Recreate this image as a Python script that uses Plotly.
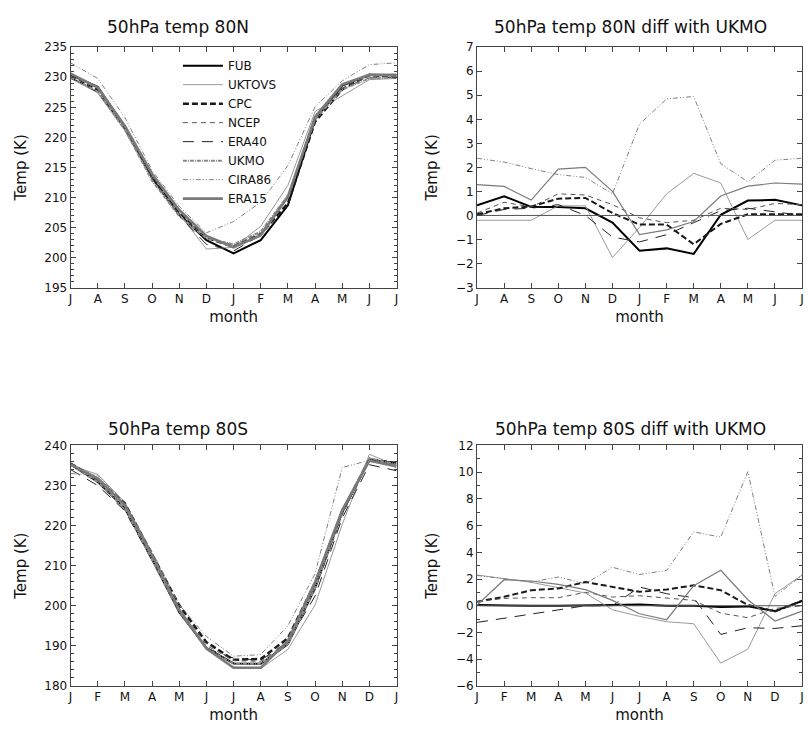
import plotly.graph_objects as go

# ---------------- data ----------------
months_N = ["J", "A", "S", "O", "N", "D", "J", "F", "M", "A", "M", "J", "J"]
months_S = ["J", "F", "M", "A", "M", "J", "J", "A", "S", "O", "N", "D", "J"]
series = ["FUB", "UKTOVS", "CPC", "NCEP", "ERA40", "UKMO", "CIRA86", "ERA15"]

# 50hPa temperature at 80N (K), July..July
temp80N_FUB    = [230.4, 228.4, 221.7, 213.2, 207.2, 202.9, 200.7, 202.9, 208.7, 223.0, 228.6, 230.4, 230.4]
temp80N_UKTOVS = [229.8, 227.4, 221.1, 213.2, 207.3, 201.4, 201.7, 205.2, 212.0, 224.3, 226.9, 229.6, 229.8]
temp80N_CPC    = [230.0, 227.9, 221.6, 213.5, 207.6, 203.3, 201.8, 203.9, 209.0, 222.6, 228.0, 230.4, 230.0]
temp80N_NCEP   = [230.1, 228.2, 221.7, 213.7, 207.6, 203.5, 202.0, 204.0, 210.0, 223.2, 228.2, 230.2, 230.4]
temp80N_ERA40  = [230.0, 227.5, 221.5, 213.2, 206.9, 202.2, 201.1, 203.7, 210.1, 223.2, 228.2, 229.9, 230.0]
temp80N_UKMO   = [230.0, 227.6, 221.3, 212.8, 206.9, 203.2, 202.2, 204.3, 210.3, 223.0, 228.0, 229.8, 230.0]
temp80N_CIRA86 = [232.4, 229.8, 223.3, 214.5, 208.5, 204.1, 206.0, 209.2, 215.3, 225.1, 229.4, 232.1, 232.4]
temp80N_ERA15  = [230.6, 228.3, 221.9, 213.9, 207.9, 203.6, 201.7, 203.7, 210.1, 223.4, 228.8, 230.4, 230.3]

# differences with UKMO at 80N (K)
diff80N_FUB    = [0.42, 0.80, 0.35, 0.35, 0.30, -0.30, -1.47, -1.37, -1.60, 0.03, 0.62, 0.65, 0.42]
diff80N_UKTOVS = [-0.20, -0.20, -0.20, 0.40, 0.40, -1.75, -0.50, 0.90, 1.75, 1.35, -1.00, -0.20, -0.20]
diff80N_CPC    = [0.05, 0.30, 0.37, 0.70, 0.73, 0.10, -0.38, -0.38, -1.20, -0.35, 0.05, 0.05, 0.05]
diff80N_NCEP   = [0.10, 0.55, 0.35, 0.90, 0.85, 0.45, -0.10, -0.30, -0.20, 0.30, 0.25, 0.50, 0.45]
diff80N_ERA40  = [0.00, 0.25, 0.30, 0.45, 0.00, -0.90, -1.10, -0.80, -0.30, 0.20, 0.30, 0.15, 0.00]
diff80N_UKMO   = [0.0] * 13
diff80N_CIRA86 = [2.38, 2.22, 1.95, 1.70, 1.58, 0.90, 3.80, 4.85, 4.95, 2.15, 1.40, 2.30, 2.38]
diff80N_ERA15  = [1.28, 1.21, 0.64, 1.93, 2.00, 1.00, -0.80, -0.60, -0.25, 0.81, 1.22, 1.35, 1.30]

# 50hPa temperature at 80S (K), Jan..Jan
temp80S_FUB    = [235.3, 230.9, 224.3, 211.6, 198.4, 189.5, 185.6, 185.5, 190.4, 204.4, 223.4, 236.5, 235.6]
temp80S_UKTOVS = [235.0, 232.8, 225.8, 212.9, 199.3, 189.1, 184.7, 184.3, 189.1, 200.2, 220.3, 237.8, 235.0]
temp80S_CPC    = [235.5, 231.6, 225.5, 212.9, 200.1, 190.9, 186.5, 186.7, 191.9, 205.7, 223.5, 236.5, 235.6]
temp80S_NCEP   = [235.4, 231.4, 224.9, 212.2, 199.4, 190.1, 186.3, 186.1, 190.8, 203.9, 222.6, 236.7, 235.2]
temp80S_ERA40  = [234.0, 230.0, 223.7, 211.3, 198.4, 189.4, 186.9, 186.4, 191.0, 202.4, 221.9, 235.2, 233.7]
temp80S_UKMO   = [235.2, 230.9, 224.3, 211.6, 198.4, 189.4, 185.5, 185.5, 190.4, 204.5, 223.5, 236.9, 235.2]
temp80S_CIRA86 = [233.0, 232.6, 225.5, 213.5, 200.2, 192.3, 187.4, 187.8, 195.0, 208.0, 234.5, 236.3, 234.4]
temp80S_ERA15  = [235.3, 231.8, 225.1, 212.6, 199.0, 189.3, 184.5, 184.5, 191.2, 205.9, 223.9, 236.2, 234.8]

# differences with UKMO at 80S (K)
diff80S_FUB    = [0.05, 0.00, 0.00, 0.00, 0.00, 0.05, 0.10, 0.00, 0.00, -0.10, -0.05, -0.40, 0.35]
diff80S_UKTOVS = [2.30, 2.00, 1.75, 1.35, 0.95, -0.30, -0.80, -1.20, -1.35, -4.30, -3.25, 0.90, 2.30]
diff80S_CPC    = [0.30, 0.67, 1.16, 1.29, 1.78, 1.41, 1.04, 1.21, 1.53, 1.16, 0.06, -0.43, 0.38]
diff80S_NCEP   = [0.30, 0.55, 0.60, 0.60, 1.00, 0.65, 0.75, 0.60, 0.40, -0.55, -0.90, -0.20, 0.00]
diff80S_ERA40  = [-1.25, -0.95, -0.60, -0.30, 0.00, 0.00, 1.40, 0.90, 0.60, -2.15, -1.65, -1.70, -1.50]
diff80S_UKMO   = [0.0] * 13
diff80S_CIRA86 = [2.27, 2.03, 1.78, 2.15, 1.65, 2.88, 2.34, 2.64, 5.53, 5.14, 10.04, 0.70, 2.27]
diff80S_ERA15  = [0.05, 1.95, 1.85, 1.60, 1.20, 0.40, -0.60, -1.05, 1.50, 2.65, 0.45, -1.15, -0.40]

# ---------------- styles ----------------
styles = {
    "FUB":    dict(color="#000000", width=2.0, dash="solid"),
    "UKTOVS": dict(color="#9a9a9a", width=1.0, dash="solid"),
    "CPC":    dict(color="#1a1a1a", width=2.5, dash="6px,3px"),
    "NCEP":   dict(color="#555555", width=1.0, dash="5px,4px"),
    "ERA40":  dict(color="#222222", width=1.0, dash="11px,8px"),
    "UKMO":   dict(color="#8a8a8a", width=2.0, dash="4px,1px,1px,1px"),
    "CIRA86": dict(color="#808080", width=1.0, dash="5px,2px,1px,2px,1px,2px"),
    "ERA15":  dict(color="#7a7a7a", width=2.6, dash="solid"),
}
diff_style = {
    "ERA15": dict(width=1.2),
    "UKMO": dict(width=1.0, color="#555555", dash="solid"),
    "CPC": dict(width=2.0),
    "FUB": dict(width=2.0),
}

panels = [
    ("x", "y", months_N, [temp80N_FUB, temp80N_UKTOVS, temp80N_CPC, temp80N_NCEP, temp80N_ERA40, temp80N_UKMO, temp80N_CIRA86, temp80N_ERA15], True, False),
    ("x2", "y2", months_N, [diff80N_FUB, diff80N_UKTOVS, diff80N_CPC, diff80N_NCEP, diff80N_ERA40, diff80N_UKMO, diff80N_CIRA86, diff80N_ERA15], False, True),
    ("x3", "y3", months_S, [temp80S_FUB, temp80S_UKTOVS, temp80S_CPC, temp80S_NCEP, temp80S_ERA40, temp80S_UKMO, temp80S_CIRA86, temp80S_ERA15], False, False),
    ("x4", "y4", months_S, [diff80S_FUB, diff80S_UKTOVS, diff80S_CPC, diff80S_NCEP, diff80S_ERA40, diff80S_UKMO, diff80S_CIRA86, diff80S_ERA15], False, True),
]

fig = go.Figure()
for xa, ya, months, data, show, is_diff in panels:
    xs = list(range(len(months)))
    for name, vals in zip(series, data):
        line = dict(styles[name])
        if is_diff and name in diff_style:
            line.update(diff_style[name])
        fig.add_trace(go.Scatter(
            x=xs, y=vals, mode="lines", name=name, xaxis=xa, yaxis=ya,
            line=line, showlegend=show, legendgroup=name,
        ))

FONT = "DejaVu Sans"
W, H = 808, 736
def px_x(a, b):
    return [a / W, b / W]
def px_y(top, bottom):
    return [1 - bottom / H, 1 - top / H]

axis_common = dict(
    showline=True, mirror="ticks", linecolor="#444444", linewidth=1,
    ticks="inside", ticklen=5, tickcolor="#444444",
    showgrid=False, zeroline=False,
    tickfont=dict(family=FONT, size=12, color="#111111"),
)

def xaxis(domain, months, anchor):
    d = dict(axis_common)
    d.update(domain=domain, anchor=anchor, range=[0, len(months) - 1],
             tickmode="array", tickvals=list(range(len(months))), ticktext=months,
             title=dict(text="month", font=dict(family=FONT, size=15, color="#111111"), standoff=6))
    return d

def yaxis(domain, rng, dtick, minor, anchor):
    d = dict(axis_common)
    d.update(domain=domain, anchor=anchor, range=rng, dtick=dtick, tick0=rng[0],
             title=dict(text="Temp (K)", font=dict(family=FONT, size=15, color="#111111"), standoff=14))
    if minor:
        d["minor"] = dict(ticks="inside", ticklen=3, dtick=minor, tickcolor="#444444", showgrid=False)
    return d

XL, XR = px_x(68, 396), px_x(477, 804)
YT, YB = px_y(41, 286), px_y(447, 692)

fig.update_layout(
    width=W, height=H, margin=dict(l=0, r=0, t=0, b=0),
    paper_bgcolor="white", plot_bgcolor="white",
    font=dict(family=FONT, color="#111111"),
    xaxis=xaxis(XL, months_N, "y"),
    yaxis=yaxis(YT, [195, 235], 5, 1, "x"),
    xaxis2=xaxis(XR, months_N, "y2"),
    yaxis2=yaxis(YT, [-3, 7], 1, None, "x2"),
    xaxis3=xaxis(XL, months_S, "y3"),
    yaxis3=yaxis(YB, [180, 240], 10, 2, "x3"),
    xaxis4=xaxis(XR, months_S, "y4"),
    yaxis4=yaxis(YB, [-6, 12], 2, 1, "x4"),
    legend=dict(x=176 / W, y=1 - 45 / H, xanchor="left", yanchor="top",
                bgcolor="rgba(0,0,0,0)", borderwidth=0, itemwidth=40,
                font=dict(family=FONT, size=12, color="#111111"), tracegroupgap=0),
    showlegend=True,
)

titles = [
    ("50hPa temp 80N", 176, 20),
    ("50hPa temp 80N diff with UKMO", 631, 20),
    ("50hPa temp 80S", 176, 430),
    ("50hPa temp 80S diff with UKMO", 631, 430),
]
for text, cx, cy in titles:
    fig.add_annotation(text=text, x=cx / W, y=1 - cy / H, xref="paper", yref="paper",
                       xanchor="center", yanchor="middle", showarrow=False,
                       font=dict(family=FONT, size=17, color="#111111"))

fig.write_html("out.html")
